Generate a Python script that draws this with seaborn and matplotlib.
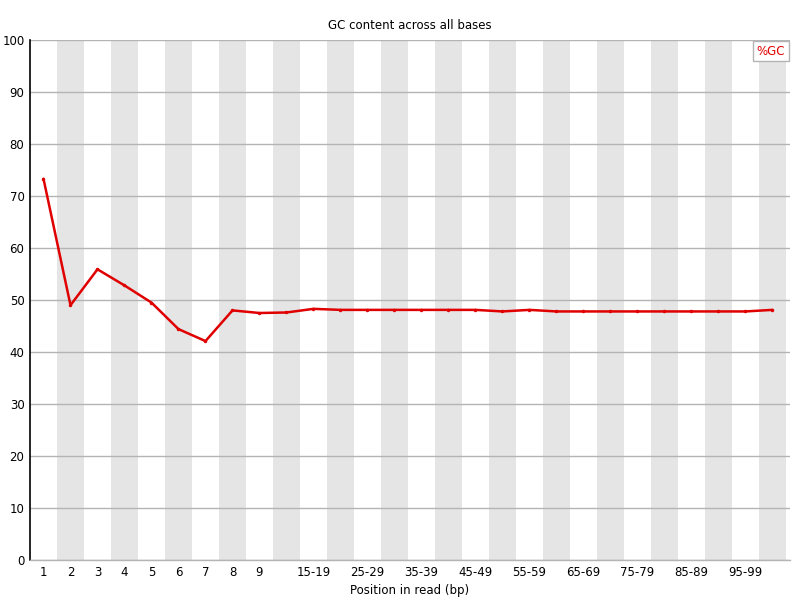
import pandas as pd
import matplotlib
matplotlib.use("Agg")
import matplotlib.pyplot as plt
import seaborn as sns

# positions in read (FastQC style grouping)
positions = ['1', '2', '3', '4', '5', '6', '7', '8', '9',
             '10-14', '15-19', '20-24', '25-29', '30-34', '35-39', '40-44',
             '45-49', '50-54', '55-59', '60-64', '65-69', '70-74', '75-79',
             '80-84', '85-89', '90-94', '95-99', '100-101']
gc_content = [73.3, 49.0, 55.9, 52.8, 49.5, 44.4, 42.1, 48.0, 47.5,
              47.6, 48.3, 48.1, 48.1, 48.1, 48.1, 48.1,
              48.1, 47.8, 48.1, 47.8, 47.8, 47.8, 47.8,
              47.8, 47.8, 47.8, 47.8, 48.1]
shown_labels = ['1', '2', '3', '4', '5', '6', '7', '8', '9',
                '15-19', '25-29', '35-39', '45-49', '55-59', '65-69',
                '75-79', '85-89', '95-99']

df = pd.DataFrame({'pos': positions, '%GC': gc_content})

sns.set_style('white')
plt.rcParams['font.family'] = ['DejaVu Sans']
plt.rcParams['text.color'] = 'black'
plt.rcParams['xtick.color'] = 'black'
plt.rcParams['ytick.color'] = 'black'
plt.rcParams['axes.labelcolor'] = 'black'

fig = plt.figure(figsize=(8, 6), dpi=100)
ax = fig.add_axes([30/800, 40/600, 760/800, 520/600])

# alternating background bands
for i in range(len(positions)):
    if i % 2 == 1:
        ax.axvspan(i - 0.5, i + 0.5, color='#e5e5e5', lw=0, zorder=0)

sns.lineplot(data=df, x='pos', y='%GC', sort=False, color='#e00000',
             linewidth=1.8, marker='o', markersize=2.5, markeredgewidth=0,
             label='%GC', ax=ax, zorder=3)

ax.set_xlim(-0.5, 27.65)
ax.set_ylim(0, 100)
ax.set_yticks(range(0, 101, 10))
ax.yaxis.grid(True, color='#b4b4b4', lw=1)
ax.xaxis.grid(False)
for gl in ax.get_ygridlines():
    gl.set_zorder(1)

ax.set_xticks(range(len(positions)))
ax.set_xticklabels([p if p in shown_labels else '' for p in positions])
ax.tick_params(axis='x', length=0, pad=4, labelsize=8.5)
ax.tick_params(axis='y', length=2, width=1, color='#b4b4b4', pad=2,
               labelsize=8.5)

for s in ['top', 'right']:
    ax.spines[s].set_visible(False)
ax.spines['left'].set_color('black')
ax.spines['left'].set_linewidth(1.2)
ax.spines['bottom'].set_color('#b4b4b4')
ax.spines['bottom'].set_linewidth(1)

ax.set_xlabel('Position in read (bp)', fontsize=8.5, labelpad=4)
ax.set_ylabel('')
ax.set_title('GC content across all bases', fontsize=8.5, pad=8)

leg = ax.legend(loc='upper right', handlelength=0, handletextpad=0,
                fancybox=False, framealpha=1, edgecolor='#b4b4b4',
                labelcolor='#e00000', fontsize=8.5, borderpad=0.3,
                borderaxespad=0.1, markerscale=0)
for h in leg.legend_handles:
    h.set_visible(False)

fig.savefig('out.png', dpi=100)
